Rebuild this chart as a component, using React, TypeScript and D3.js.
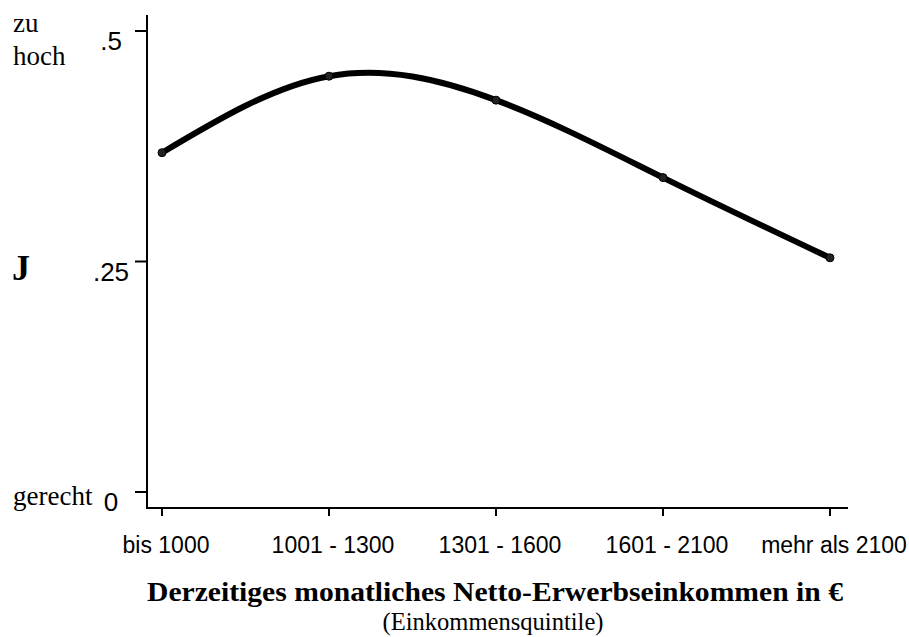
import React from 'react';
import * as d3 from 'd3';

const categories = ['bis 1000', '1001 - 1300', '1301 - 1600', '1601 - 2100', 'mehr als 2100'];
const values = [0.368, 0.451, 0.425, 0.341, 0.254];
const yTicks = [0, 0.25, 0.5];
const yTickLabels = ['0', '.25', '.5'];

const W = 909;
const H = 637;

const App = () => {
  const x = d3.scalePoint<string>().domain(categories).range([162, 830]);
  const y = d3.scaleLinear().domain([0, 0.5]).range([492, 31]);

  const line = d3
    .line<number>()
    .x((d, i) => x(categories[i]) as number)
    .y((d) => y(d))
    .curve(d3.curveNatural);

  const sans = 'Liberation Sans, Arial, sans-serif';
  const serif = 'Liberation Serif, Times New Roman, serif';

  return (
    <svg width={W} height={H} style={{ position: 'absolute', left: 0, top: 0, background: '#fff' }}>
      {/* y axis */}
      <line x1={147} x2={147} y1={15} y2={508} stroke="#000" strokeWidth={2} />
      {yTicks.map((t, i) => (
        <g key={t}>
          <line x1={135} x2={147} y1={y(t)} y2={y(t)} stroke="#000" strokeWidth={2} />
          <text x={111} y={y(t) + 19} textAnchor="middle" fontFamily={sans} fontSize={26}>
            {yTickLabels[i]}
          </text>
        </g>
      ))}

      {/* x axis */}
      <line x1={146} x2={848} y1={508} y2={508} stroke="#000" strokeWidth={2} />
      {categories.map((c) => (
        <g key={c}>
          <line x1={x(c)} x2={x(c)} y1={508} y2={516} stroke="#000" strokeWidth={2} />
          <text x={(x(c) as number) + 4} y={553} textAnchor="middle" fontFamily={sans} fontSize={23}>
            {c}
          </text>
        </g>
      ))}

      {/* curve */}
      <path d={line(values) || ''} fill="none" stroke="#000" strokeWidth={6} strokeLinejoin="round" />
      {values.map((v, i) => (
        <circle key={i} cx={x(categories[i])} cy={y(v)} r={4} fill="#222" stroke="#000" strokeWidth={1} />
      ))}

      {/* y labels */}
      <text x={13} y={32} fontFamily={serif} fontSize={27}>zu</text>
      <text x={13} y={65} fontFamily={serif} fontSize={27}>hoch</text>
      <text x={12} y={280} fontFamily={serif} fontSize={36} fontWeight="bold">J</text>
      <text x={13} y={505} fontFamily={serif} fontSize={27}>gerecht</text>

      {/* x title */}
      <text
        x={495}
        y={601}
        textAnchor="middle"
        fontFamily={serif}
        fontSize={28}
        fontWeight="bold"
        textLength={696}
        lengthAdjust="spacingAndGlyphs"
      >
        Derzeitiges monatliches Netto-Erwerbseinkommen in €
      </text>
      <text
        x={493}
        y={630}
        textAnchor="middle"
        fontFamily={serif}
        fontSize={26}
        textLength={221}
        lengthAdjust="spacingAndGlyphs"
      >
        (Einkommensquintile)
      </text>
    </svg>
  );
};

export default App;
